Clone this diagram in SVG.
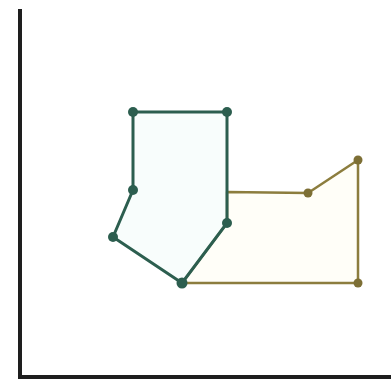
<svg xmlns="http://www.w3.org/2000/svg" width="391" height="387" viewBox="0 0 391 387">
<style>
.axis{fill:none;stroke:#1e1e1e;stroke-width:4}
.teal{fill:#f2fbfa;fill-opacity:0.5;stroke:#2c5e4f;stroke-width:3;stroke-linejoin:round}
.olive{fill:#fffdf2;fill-opacity:0.5;stroke:#8c7d3e;stroke-width:2.5;stroke-linejoin:round}
.td{fill:#2c5e4f}
.od{fill:#7d6f35}
</style>
<rect width="391" height="387" fill="#ffffff"/>
<g id="connectors">
<polyline class="axis" points="20,9 20,377 391,377"/>
<polygon class="olive" points="227,192 308,193 358,160 358,283 182,283 227,223"/>
<polygon class="teal" points="133,112 227,112 227,192 227,223 182,283 113,237 133,190"/>
</g>
<g id="teal-nodes">
<circle class="td" cx="133" cy="112" r="5"/>
<circle class="td" cx="227" cy="112" r="5"/>
<circle class="td" cx="133" cy="190" r="5"/>
<circle class="td" cx="113" cy="237" r="5"/>
<circle class="td" cx="227" cy="223" r="5"/>
<circle class="td" cx="182" cy="283" r="5.5"/>
</g>
<g id="olive-nodes">
<circle class="od" cx="308" cy="193" r="4.5"/>
<circle class="od" cx="358" cy="160" r="4.5"/>
<circle class="od" cx="358" cy="283" r="4.5"/>
</g>
</svg>
